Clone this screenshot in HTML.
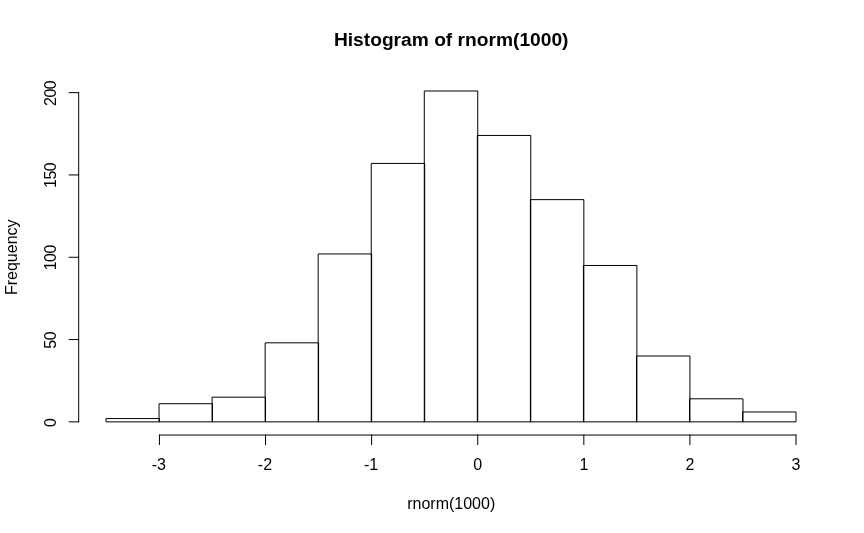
<!DOCTYPE html>
<html lang="en"><head><meta charset="utf-8"><title>Histogram of rnorm(1000)</title>
<style>html,body{margin:0;padding:0;background:#fff;}body{width:864px;height:533px;overflow:hidden;font-family:"Liberation Sans",sans-serif;}svg{display:block;}</style>
</head><body>
<svg width="864" height="533" viewBox="0 0 864 533">
<rect width="864" height="533" fill="#fff"/>
<g fill="none" stroke="#000" stroke-width="1" stroke-linecap="round" stroke-linejoin="round">
<rect x="106.38" y="418.56" width="53.05" height="3.29"/>
<rect x="159.43" y="403.74" width="53.05" height="18.11"/>
<rect x="212.48" y="397.16" width="53.05" height="24.69"/>
<rect x="265.53" y="342.84" width="53.05" height="79.01"/>
<rect x="318.58" y="253.96" width="53.05" height="167.89"/>
<rect x="371.63" y="163.43" width="53.05" height="258.42"/>
<rect x="424.68" y="91.00" width="53.05" height="330.85"/>
<rect x="477.73" y="135.45" width="53.05" height="286.40"/>
<rect x="530.78" y="199.64" width="53.05" height="222.21"/>
<rect x="583.83" y="265.48" width="53.05" height="156.37"/>
<rect x="636.88" y="356.01" width="53.05" height="65.84"/>
<rect x="689.93" y="398.81" width="53.05" height="23.04"/>
<rect x="742.98" y="411.97" width="53.05" height="9.88"/>
<path d="M159.43 435.05H796.03"/>
<path d="M159.43 435.05v9.6"/>
<path d="M265.53 435.05v9.6"/>
<path d="M371.63 435.05v9.6"/>
<path d="M477.73 435.05v9.6"/>
<path d="M583.83 435.05v9.6"/>
<path d="M689.93 435.05v9.6"/>
<path d="M796.03 435.05v9.6"/>
<path d="M78.7 421.85V92.65"/>
<path d="M78.7 421.85h-9.6"/>
<path d="M78.7 339.55h-9.6"/>
<path d="M78.7 257.25h-9.6"/>
<path d="M78.7 174.95h-9.6"/>
<path d="M78.7 92.65h-9.6"/>
</g>
<g font-family="'Liberation Sans', Arial, Helvetica, sans-serif" font-size="16" fill="#000" text-anchor="middle">
<text x="451.2" y="45.7" font-size="19.2" font-weight="bold">Histogram of rnorm(1000)</text>
<text x="158.83" y="469.9">-3</text>
<text x="264.93" y="469.9">-2</text>
<text x="371.03" y="469.9">-1</text>
<text x="477.73" y="469.9">0</text>
<text x="583.83" y="469.9">1</text>
<text x="689.93" y="469.9">2</text>
<text x="796.03" y="469.9">3</text>
<text x="451.2" y="508.5">rnorm(1000)</text>
<text letter-spacing="-0.45" transform="translate(55.8 422.75) rotate(-90)">0</text>
<text letter-spacing="-0.45" transform="translate(55.8 340.25) rotate(-90)">50</text>
<text letter-spacing="-0.45" transform="translate(55.8 257.70) rotate(-90)">100</text>
<text letter-spacing="-0.45" transform="translate(55.8 175.40) rotate(-90)">150</text>
<text letter-spacing="-0.45" transform="translate(55.8 93.40) rotate(-90)">200</text>
<text transform="translate(17.3 257.25) rotate(-90)">Frequency</text>
</g></svg>
</body></html>
